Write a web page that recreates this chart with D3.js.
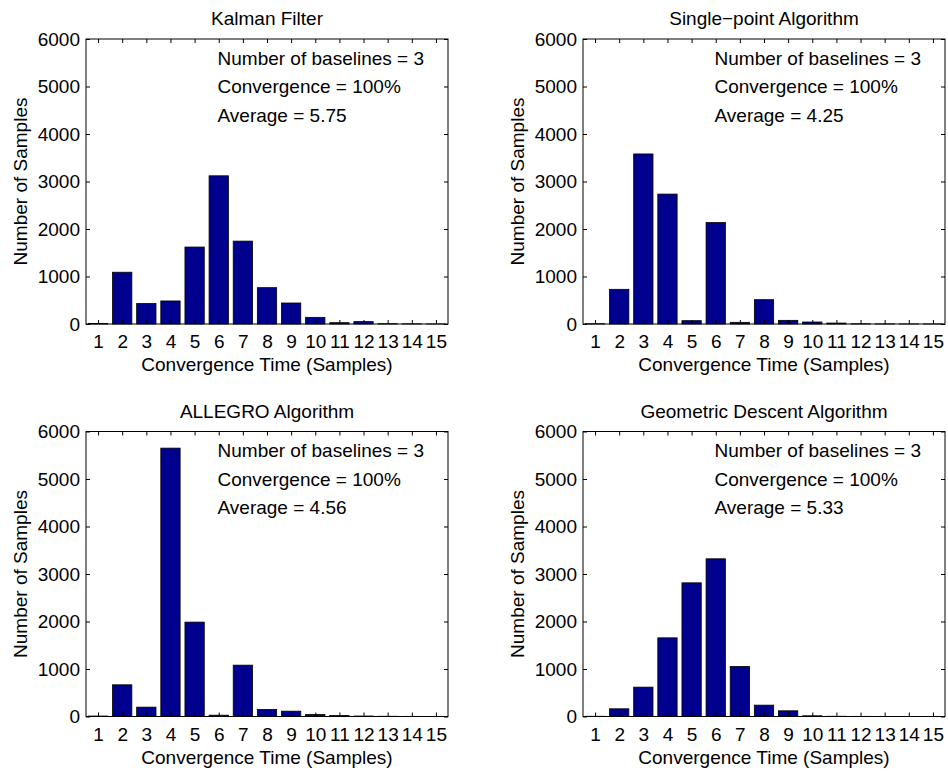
<!DOCTYPE html>
<html>
  <head>
    <title>Convergence Time Histograms</title>
    <style>
      body { margin: 0; background: #fff; }
      text { font-family: "Liberation Sans", Arial, Helvetica, sans-serif; fill: #000; }
      .bar { fill: #00008f; stroke: #000; stroke-width: 0.8; }
      .frame { fill: none; stroke: #000; stroke-width: 1; }
    </style>
  </head>
  <body>
    <div id="chart"></div>
    <script src="https://cdn.jsdelivr.net/npm/d3@7"></script>
<script>

  var bins = [1, 2, 3, 4, 5, 6, 7, 8, 9, 10, 11, 12, 13, 14, 15];
  var yTicks = [0, 1000, 2000, 3000, 4000, 5000, 6000];

  var titles = ["Kalman Filter", "Single\u2212point Algorithm", "ALLEGRO Algorithm", "Geometric Descent Algorithm"];
  var averages = ["5.75", "4.25", "4.56", "5.33"];

  var kalman = [10, 1090, 430, 485, 1620, 3120, 1745, 765, 442, 140, 28, 50, 6, 3, 1];
  var singlePoint = [5, 730, 3580, 2735, 70, 2135, 35, 512, 77, 42, 20, 4, 2, 1, 1];
  var allegro = [10, 667, 197, 5650, 1987, 28, 1081, 148, 112, 42, 21, 10, 5, 3, 2];
  var geometric = [5, 162, 618, 1656, 2814, 3320, 1053, 239, 120, 15, 5, 3, 2, 1, 1];

  var series = [kalman, singlePoint, allegro, geometric];

  var W = 948, H = 773;
  var plotW = 362, plotH = 285;
  var fs = "19px";
  var origins = [[86, 39], [583, 39], [86, 431.5], [583, 431.5]];

  var svg = d3.select("#chart").append("svg")
    .attr("width", W)
    .attr("height", H);

  var x = d3.scaleLinear().domain([0.5, 15.5]).range([0, plotW]);
  var y = d3.scaleLinear().domain([0, 6000]).range([plotH, 0]);
  var barW = x(0.8) - x(0);

  series.forEach(function(values, i) {
    var g = svg.append("g")
      .attr("transform", "translate(" + origins[i][0] + "," + origins[i][1] + ")");

    g.selectAll("rect")
      .data(values)
      .enter()
      .append("rect")
      .attr("class", "bar")
      .attr("x", function(d, j) { return x(bins[j]) - barW / 2; })
      .attr("width", barW)
      .attr("y", function(d) { return y(d); })
      .attr("height", function(d) { return plotH - y(d); });

    // bottom axis with labels, ticks inward
    g.append("g")
      .attr("transform", "translate(0," + plotH + ")")
      .call(d3.axisBottom(x).tickValues(bins).tickSize(-4).tickPadding(11).tickFormat(d3.format("d")))
      .call(function(a) {
        a.select(".domain").remove();
        a.selectAll("text").style("font-size", fs);
      });
    g.append("g")
      .call(d3.axisTop(x).tickValues(bins).tickSize(-4).tickFormat(""))
      .call(function(a) { a.select(".domain").remove(); });

    g.append("g")
      .call(d3.axisLeft(y).tickValues(yTicks).tickSize(-4).tickPadding(6).tickFormat(d3.format("d")))
      .call(function(a) {
        a.select(".domain").remove();
        a.selectAll("text").style("font-size", fs);
      });
    g.append("g")
      .attr("transform", "translate(" + plotW + ",0)")
      .call(d3.axisRight(y).tickValues(yTicks).tickSize(-4).tickFormat(""))
      .call(function(a) { a.select(".domain").remove(); });

    g.append("rect")
      .attr("class", "frame")
      .attr("width", plotW)
      .attr("height", plotH);

    g.append("text")
      .attr("x", plotW / 2)
      .attr("y", -14)
      .attr("text-anchor", "middle")
      .style("font-size", fs)
      .text(titles[i]);

    g.append("text")
      .attr("x", plotW / 2)
      .attr("y", plotH + 47)
      .attr("text-anchor", "middle")
      .style("font-size", fs)
      .text("Convergence Time (Samples)");

    g.append("text")
      .attr("transform", "translate(-59," + (plotH / 2) + ") rotate(-90)")
      .attr("text-anchor", "middle")
      .style("font-size", fs)
      .text("Number of Samples");

    var notes = ["Number of baselines = 3", "Convergence = 100%", "Average = " + averages[i]];
    var noteY = [5600, 5000, 4400];
    g.selectAll(".note")
      .data(notes)
      .enter()
      .append("text")
      .attr("class", "note")
      .attr("x", x(5.95))
      .attr("y", function(d, j) { return y(noteY[j]); })
      .attr("dy", "0.35em")
      .style("font-size", fs)
      .text(function(d) { return d; });
  });

</script>
  </body>
</html>
